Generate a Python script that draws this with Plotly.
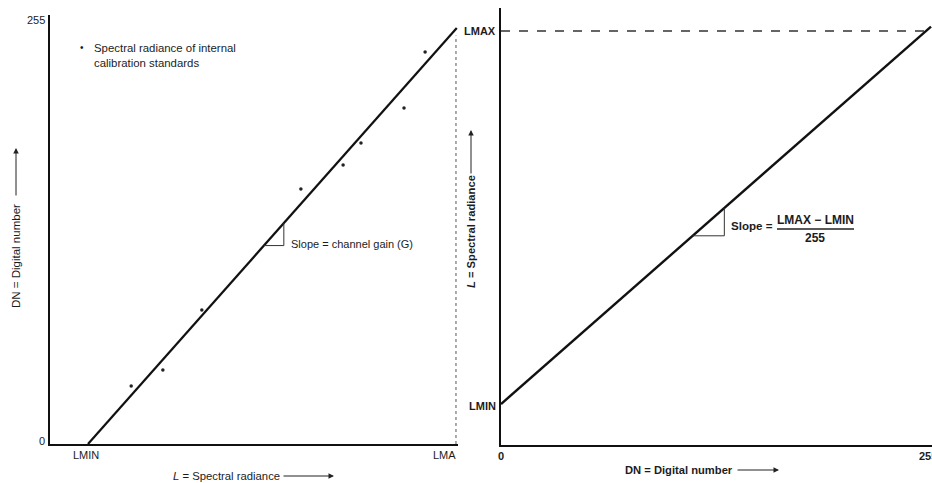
import plotly.graph_objects as go

W, H = 932, 483

# ---------------- data ----------------
# Left panel: DN vs spectral radiance (arbitrary radiance units)
L_MIN = 9.36
L_MAX = 100.0
cal_line_L = [9.36, 100.2]          # calibration line, radiance
cal_line_DN = [0.0, 249.5]          # calibration line, digital number
std_L = [92.4, 87.2, 76.6, 72.2, 61.8, 37.4, 27.8, 20.0]        # internal calibration standards
std_DN = [235.2, 201.6, 180.6, 167.4, 153.0, 80.4, 44.4, 34.8]
gain_tri_L = [52.7, 57.6]           # slope-triangle corners (radiance)
left_y_ticks = [0, 255]
left_y_ticktext = ["0", "255"]

# Right panel: L vs DN
DN_max = 255
resp_DN = [0, 258]
tri_DN = [115, 134]
right_x_ticks = [0, 255]
right_x_ticktext = ["0", "255"]


def L_of_DN(dn):
    return L_MIN + (L_MAX - L_MIN) * dn / DN_max


def DN_of_L(l):
    g = (cal_line_DN[1] - cal_line_DN[0]) / (cal_line_L[1] - cal_line_L[0])
    return cal_line_DN[0] + g * (l - cal_line_L[0])


FONT = "Liberation Sans, Arial, sans-serif"
INK = "#1c1c1c"


def px(x):
    return x / W


def py(y):
    return 1 - y / H


fig = go.Figure()

# ---- left panel traces ----
fig.add_trace(go.Scatter(x=cal_line_L, y=cal_line_DN, mode="lines",
                         line=dict(color="#111", width=2.2), xaxis="x", yaxis="y",
                         hoverinfo="skip"))
fig.add_trace(go.Scatter(x=std_L, y=std_DN, mode="markers",
                         marker=dict(color="#222", size=3.5), xaxis="x", yaxis="y",
                         hoverinfo="skip"))
fig.add_trace(go.Scatter(x=[L_MAX, L_MAX], y=[0, 245], mode="lines",
                         line=dict(color="#555", width=1, dash="3px,3px"), xaxis="x", yaxis="y",
                         hoverinfo="skip"))
a, b = gain_tri_L
fig.add_trace(go.Scatter(x=[a, b, b], y=[DN_of_L(a), DN_of_L(a), DN_of_L(b)], mode="lines",
                         line=dict(color="#333", width=1), xaxis="x", yaxis="y",
                         hoverinfo="skip"))

# ---- right panel traces ----
fig.add_trace(go.Scatter(x=resp_DN, y=[L_of_DN(d) for d in resp_DN], mode="lines",
                         line=dict(color="#111", width=2.4), xaxis="x2", yaxis="y2",
                         hoverinfo="skip"))
fig.add_trace(go.Scatter(x=[0, DN_max], y=[L_MAX, L_MAX], mode="lines",
                         line=dict(color="#333", width=1.4, dash="dash"), xaxis="x2", yaxis="y2",
                         hoverinfo="skip"))
c, d = tri_DN
fig.add_trace(go.Scatter(x=[c, d, d], y=[L_of_DN(c), L_of_DN(c), L_of_DN(d)], mode="lines",
                         line=dict(color="#333", width=1), xaxis="x2", yaxis="y2",
                         hoverinfo="skip"))

axis_common = dict(showgrid=False, zeroline=False, showticklabels=False, ticks="",
                   showline=True, linecolor="#111", linewidth=2, fixedrange=True)

fig.update_layout(
    width=W, height=H, autosize=False,
    margin=dict(l=0, r=0, t=0, b=0),
    paper_bgcolor="white", plot_bgcolor="white",
    showlegend=False,
    xaxis=dict(domain=[px(50), px(458)], range=[0, 100.5], anchor="y", **axis_common),
    yaxis=dict(domain=[py(444), py(15)], range=[0, (444 - 15) / 1.667], anchor="x", **axis_common),
    xaxis2=dict(domain=[px(501), px(932)], range=[0, 258.6], anchor="y2", **axis_common),
    yaxis2=dict(domain=[py(445), py(8)], range=[-0.6, 105.6], anchor="x2", **axis_common),
)

anns = []


def txt(text, x, y, size=10, xanchor="center", yanchor="middle", angle=0, align="center",
        xref="paper", yref="paper", xshift=0, yshift=0, color=INK):
    anns.append(dict(text=text, x=x, y=y, xref=xref, yref=yref, showarrow=False,
                     xanchor=xanchor, yanchor=yanchor, textangle=angle, align=align,
                     xshift=xshift, yshift=yshift,
                     font=dict(family=FONT, size=size, color=color)))


def arrow(hx, hy, tx, ty):
    anns.append(dict(text="", x=px(hx), y=py(hy), xref="paper", yref="paper",
                     ax=tx - hx, ay=ty - hy, axref="pixel", ayref="pixel",
                     showarrow=True, arrowhead=2, arrowsize=1.1, arrowwidth=1,
                     arrowcolor="#222", standoff=0, startstandoff=0))


# left tick labels
for v, t in zip(left_y_ticks, left_y_ticktext):
    txt(t, 0, v, size=11, xanchor="right", xref="x", yref="y", xshift=-3,
        yshift=(3 if v == 0 else -1))
txt("LMIN", L_MIN, 0, size=11, xref="x", yref="y", yanchor="top", yshift=-3, xshift=-2)
txt("LMA", 100.5, 0, size=11, xref="x", yref="y", yanchor="top", xanchor="right", yshift=-3)

# left legend
txt("•", px(82), py(48), size=10)
txt("Spectral radiance of internal<br>calibration standards", px(92), py(40), size=11.4,
    xanchor="left", yanchor="top", align="left")

# left slope label
txt("Slope = channel gain (G)", px(289), py(244), size=11, xanchor="left")

# left titles
txt("DN = Digital number", px(16), py(256), size=11.5, angle=-90)
arrow(16, 148, 16, 197)
txt("<i>L</i> = Spectral radiance", px(226), py(476), size=11.3)
arrow(334, 476, 282, 476)

# right tick labels
txt("<b>LMAX</b>", 0, L_MAX, size=11, xref="x2", yref="y2", xanchor="right", xshift=-3)
txt("<b>LMIN</b>", 0, L_MIN, size=11, xref="x2", yref="y2", xanchor="right", xshift=-3, yshift=-2)
for v, t in zip(right_x_ticks, right_x_ticktext):
    txt("<b>%s</b>" % t, v, -0.6, size=11, xref="x2", yref="y2", yanchor="top", yshift=-3,
        xshift=(0 if v == 0 else 2))

# right slope label
txt("<b>Slope =</b>", px(729), py(226), size=11.6, xanchor="left")
txt("<b>LMAX − LMIN</b>", px(815), py(220), size=12)
txt("<b>255</b>", px(815), py(238), size=12)

# right titles
txt("<b><i>L</i> = Spectral radiance</b>", px(471), py(232), size=11.2, angle=-90)
arrow(471, 130, 471, 175)
txt("<b>DN = Digital number</b>", px(679), py(470), size=11.2)
arrow(779, 470, 736, 470)

fig.update_layout(annotations=anns)
fig.add_shape(type="line", xref="paper", yref="paper",
              x0=px(777), x1=px(854), y0=py(229), y1=py(229),
              line=dict(color="#222", width=1.3))

fig.write_html("out.html", config={"displayModeBar": False},
               post_script="document.body.style.margin='0';document.body.style.overflow='hidden';")
